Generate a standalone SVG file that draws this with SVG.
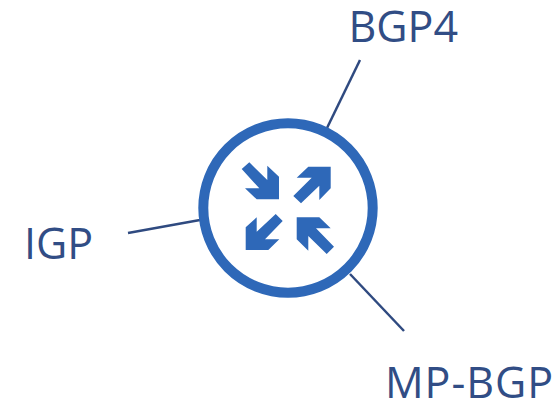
<svg xmlns="http://www.w3.org/2000/svg" width="560" height="403" viewBox="0 0 560 403">
<style>
.l{font-family:"Open Sans","Liberation Sans",sans-serif;font-size:43px;fill:#314d85}
.c{stroke:#2f4a80;stroke-width:2.5;fill:none}
.a{fill:#2e68b8}
</style>
<rect width="560" height="403" fill="#fff"/>
<g id="connectors">
<path class="c" d="M360 60L327 128"/>
<path class="c" d="M128 233L200 220"/>
<path class="c" d="M350 274L404 331"/>
</g>
<g id="hub">
<circle cx="288" cy="208" r="84.7" fill="#fff" stroke="#2e68b8" stroke-width="10"/>
<polygon class="a" points="241.7,169 249.3,162.3 267.3,180 267.3,165.7 279,176.7 279,199.3 256.7,199.3 245,188.3 259.3,188.3"/>
<polygon class="a" points="330.7,166.7 330.7,188.3 319.3,200 319.3,185.7 301,203.3 293.3,196 311.7,177.7 296.7,177.7 308.3,166.7"/>
<polygon class="a" points="245.7,250 245.7,227.3 256.7,217.3 256.7,231.7 275.7,214 282.7,221 265,239.3 279.3,239.3 268.3,250"/>
<polygon class="a" points="296.7,217.3 319.3,217.3 330.7,228.3 316,228.3 334,246.7 326.7,254 308.3,236 308.3,250.7 296.7,239.3"/>
</g>
<g id="bgp4"><text class="l" x="348.5" y="42">BGP4</text></g>
<g id="igp"><text class="l" x="24" y="259">IGP</text></g>
<g id="mp-bgp"><text class="l" x="385" y="398" textLength="168">MP-BGP</text></g>
</svg>
